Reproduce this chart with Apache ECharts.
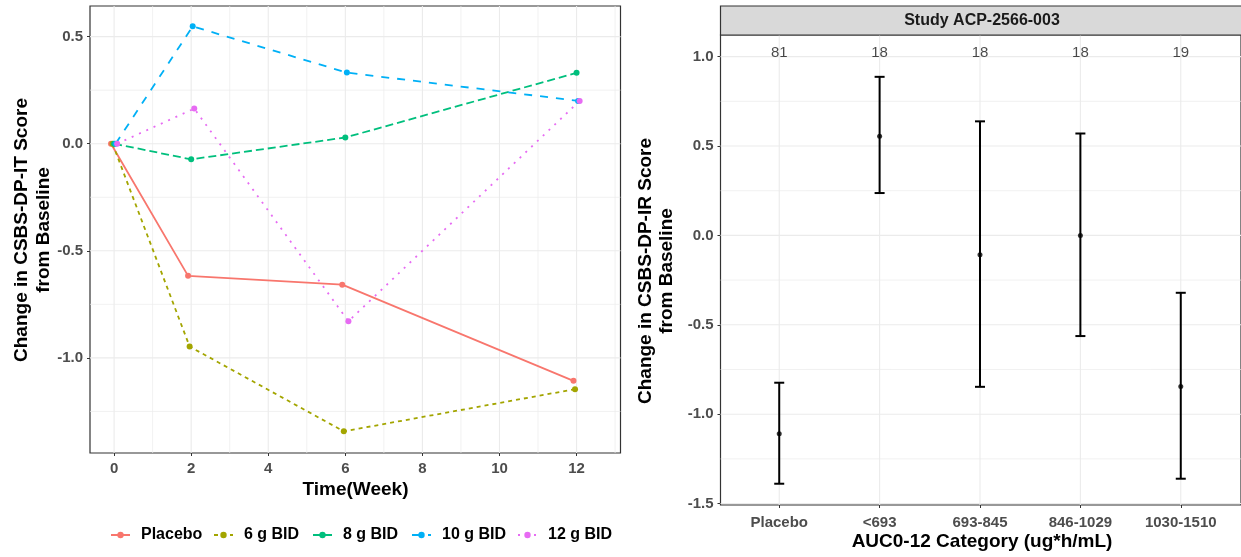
<!DOCTYPE html>
<html><head><meta charset="utf-8">
<script src="https://cdn.jsdelivr.net/npm/echarts@6/dist/echarts.min.js"></script>
<style>html,body{margin:0;padding:0;background:#fff}#c{width:1241px;height:557px}</style>
</head><body><div id="c"></div>
<script>
// ---------- Left panel data ----------
const weeks = [0, 2, 6, 12];
const groupNames = ['Placebo', '6 g BID', '8 g BID', '10 g BID', '12 g BID'];
const placebo = [0, -0.617, -0.658, -1.107];
const bid6 = [0, -0.947, -1.343, -1.146];
const bid8 = [0, -0.073, 0.029, 0.331];
const bid10 = [0, 0.548, 0.332, 0.200];
const bid12 = [0, 0.164, -0.829, 0.200];
const dodge = [-0.08, -0.04, 0, 0.04, 0.08];
const weekTicks = [0, 2, 4, 6, 8, 10, 12];
const weekMinor = [1, 3, 5, 7, 9, 11, 13];
const leftYTicks = [-1.0, -0.5, 0, 0.5];
const leftYMinor = [-1.25, -0.75, -0.25, 0.25];

// ---------- Right panel data ----------
const aucCategories = ['Placebo', '<693', '693-845', '846-1029', '1030-1510'];
const aucCounts = [81, 18, 18, 18, 19];
const aucMean = [-1.110, 0.555, -0.108, 0.000, -0.845];
const aucLower = [-1.389, 0.237, -0.847, -0.563, -1.361];
const aucUpper = [-0.824, 0.887, 0.638, 0.570, -0.321];
const rightYTicks = [-1.5, -1.0, -0.5, 0, 0.5, 1.0];
const rightYMinor = [-1.25, -0.75, -0.25, 0.25, 0.75];
const countLabelY = 1.0;

// ---------- styles ----------
const FONT = "'Liberation Sans', Arial, sans-serif";
const colors = ['#F8766D', '#A3A500', '#00BF7D', '#00B0F6', '#E76BF3'];
const dashes = ['solid', [4, 4], [8, 4], [8, 8], [2, 6]];
const seriesValues = [placebo, bid6, bid8, bid10, bid12];

const chart = echarts.init(document.getElementById('c'), null, {renderer: 'canvas'});

function gridRender(params, api) {
  const cs = params.coordSys;
  const v = api.value(0), dir = api.value(1), minor = api.value(2);
  const style = {stroke: '#EBEBEB', lineWidth: minor ? 0.7 : 1.1};
  if (dir === 0) {
    const x = api.coord([v, 0])[0];
    return {type: 'line', shape: {x1: x, y1: cs.y, x2: x, y2: cs.y + cs.height}, style};
  }
  const y = api.coord([0, v])[1];
  return {type: 'line', shape: {x1: cs.x, y1: y, x2: cs.x + cs.width, y2: y}, style};
}

function errRender(params, api) {
  const x = api.value(0), lo = api.value(1), hi = api.value(2);
  const pHi = api.coord([x, hi]), pLo = api.coord([x, lo]);
  const hw = 5;
  const style = {stroke: '#000', lineWidth: 2};
  return {type: 'group', children: [
    {type: 'line', shape: {x1: pHi[0], y1: pHi[1], x2: pLo[0], y2: pLo[1]}, style},
    {type: 'line', shape: {x1: pHi[0] - hw, y1: pHi[1], x2: pHi[0] + hw, y2: pHi[1]}, style},
    {type: 'line', shape: {x1: pLo[0] - hw, y1: pLo[1], x2: pLo[0] + hw, y2: pLo[1]}, style}
  ]};
}

function gridData(xMajor, xMinor, yMajor, yMinor) {
  const d = [];
  xMajor.forEach(v => d.push([v, 0, 0]));
  xMinor.forEach(v => d.push([v, 0, 1]));
  yMajor.forEach(v => d.push([v, 1, 0]));
  yMinor.forEach(v => d.push([v, 1, 1]));
  return d;
}

const tickLabel = {fontFamily: FONT, fontSize: 15, fontWeight: 'bold', color: '#4D4D4D'};
const tickStyle = vals => ({show: true, length: 3, inside: false, lineStyle: {color: '#333', width: 1}, customValues: vals});
const noLine = {show: false, onZero: false};

const lineSeries = groupNames.map((name, i) => ({
  type: 'line', name, xAxisIndex: 0, yAxisIndex: 0, z: 3,
  data: weeks.map((w, j) => [w + dodge[i], seriesValues[i][j]]),
  symbol: 'circle', symbolSize: 6, showSymbol: true,
  itemStyle: {color: colors[i]},
  lineStyle: {color: colors[i], width: 1.8, type: dashes[i]},
  emphasis: {disabled: true}, animation: false
}));

const legendLefts = [110, 213, 312, 411, 517];
const legends = groupNames.map((name, i) => ({
  data: [name], left: legendLefts[i], top: 527, padding: 0,
  itemWidth: 19, itemHeight: 8, selectedMode: false,
  textStyle: {fontFamily: FONT, fontSize: 16, fontWeight: 'bold', color: '#000', padding: [0, 0, 0, 6]}
}));

const option = {
  animation: false,
  backgroundColor: '#fff',
  legend: legends,
  grid: [
    {left: 90, top: 6, width: 530.5, height: 447, show: true, borderColor: '#333333', borderWidth: 1.2, backgroundColor: '#fff'},
    {left: 720.5, top: 35, width: 524, height: 470, show: true, borderColor: '#333333', borderWidth: 1.2, backgroundColor: '#fff'}
  ],
  xAxis: [
    {type: 'value', gridIndex: 0, min: -0.625, max: 13.14, position: 'bottom',
     axisLine: noLine, splitLine: {show: false},
     axisTick: tickStyle(weekTicks),
     axisLabel: Object.assign({margin: 8, customValues: weekTicks, formatter: v => String(v)}, tickLabel)},
    {type: 'value', gridIndex: 1, min: -0.585, max: 4.6, position: 'bottom',
     axisLine: noLine, splitLine: {show: false},
     axisTick: tickStyle([0, 1, 2, 3, 4]),
     axisLabel: Object.assign({margin: 10, customValues: [0, 1, 2, 3, 4], formatter: v => aucCategories[Math.round(v)]}, tickLabel)}
  ],
  yAxis: [
    {type: 'value', gridIndex: 0, min: -1.444, max: 0.643, position: 'left',
     axisLine: noLine, splitLine: {show: false},
     axisTick: tickStyle(leftYTicks),
     axisLabel: Object.assign({margin: 7, customValues: leftYTicks, formatter: v => v.toFixed(1)}, tickLabel)},
    {type: 'value', gridIndex: 1, min: -1.508, max: 1.121, position: 'left',
     axisLine: noLine, splitLine: {show: false},
     axisTick: tickStyle(rightYTicks),
     axisLabel: Object.assign({margin: 7, customValues: rightYTicks, formatter: v => v.toFixed(1)}, tickLabel)}
  ],
  series: [
    {type: 'custom', xAxisIndex: 0, yAxisIndex: 0, z: 1, silent: true, clip: false,
     renderItem: gridRender, data: gridData(weekTicks, weekMinor, leftYTicks, leftYMinor)},
    {type: 'custom', xAxisIndex: 1, yAxisIndex: 1, z: 1, silent: true, clip: false,
     renderItem: gridRender, data: gridData([0, 1, 2, 3, 4], [], rightYTicks, rightYMinor)},
    ...lineSeries,
    {type: 'custom', xAxisIndex: 1, yAxisIndex: 1, z: 3, silent: true,
     renderItem: errRender, encode: {x: 0, y: [1, 2]},
     data: aucCategories.map((c, i) => [i, aucLower[i], aucUpper[i]])},
    {type: 'scatter', xAxisIndex: 1, yAxisIndex: 1, z: 4, silent: true,
     symbolSize: 5, itemStyle: {color: '#000'},
     data: aucCategories.map((c, i) => [i, aucMean[i]])},
    {type: 'scatter', xAxisIndex: 1, yAxisIndex: 1, z: 4, silent: true,
     symbolSize: 0,
     data: aucCategories.map((c, i) => [i, countLabelY, aucCounts[i]]),
     label: {show: true, position: 'top', distance: -4, formatter: p => String(p.data[2]),
             fontFamily: FONT, fontSize: 15, color: '#1A1A1A'}}
  ],
  graphic: [
    {type: 'text', x: 33, y: 230, rotation: Math.PI / 2,
     style: {text: 'Change in CSBS-DP-IT Score\nfrom Baseline', fontFamily: FONT, fontSize: 19, fontWeight: 'bold',
             fill: '#000', textAlign: 'center', textVerticalAlign: 'middle', lineHeight: 22}},
    {type: 'text', x: 656, y: 271, rotation: Math.PI / 2,
     style: {text: 'Change in CSBS-DP-IR Score\nfrom Baseline', fontFamily: FONT, fontSize: 19, fontWeight: 'bold',
             fill: '#000', textAlign: 'center', textVerticalAlign: 'middle', lineHeight: 21}},
    {type: 'text', x: 355.5, y: 490,
     style: {text: 'Time(Week)', fontFamily: FONT, fontSize: 19, fontWeight: 'bold', fill: '#000',
             textAlign: 'center', textVerticalAlign: 'middle'}},
    {type: 'text', x: 982, y: 542,
     style: {text: 'AUC0-12 Category (ug*h/mL)', fontFamily: FONT, fontSize: 19, fontWeight: 'bold', fill: '#000',
             textAlign: 'center', textVerticalAlign: 'middle'}},
    {type: 'rect', shape: {x: 720.5, y: 6, width: 524, height: 29},
     style: {fill: '#D9D9D9', stroke: '#333333', lineWidth: 1.2}, z: 10},
    {type: 'text', x: 982, y: 20.5, z: 11,
     style: {text: 'Study ACP-2566-003', fontFamily: FONT, fontSize: 16, fontWeight: 'bold', fill: '#1A1A1A',
             textAlign: 'center', textVerticalAlign: 'middle'}}
  ]
};
chart.setOption(option);
</script>
</body></html>
